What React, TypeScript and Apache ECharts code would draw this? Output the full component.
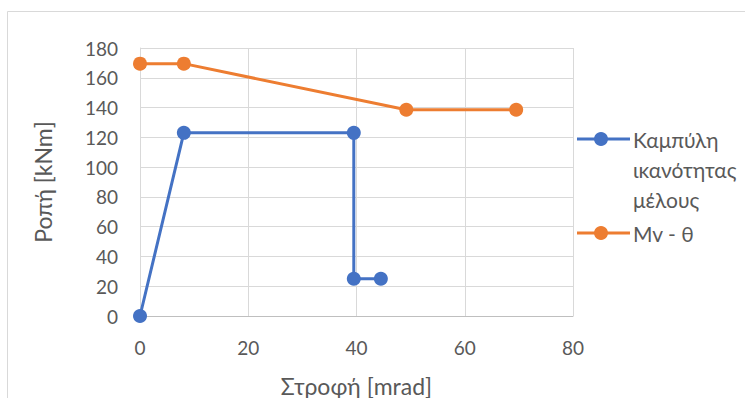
import React, { useEffect, useRef } from "react";
import * as echarts from "echarts";

const blueName = "Καμπύλη ικανότητας μέλους";
const blueLegendLines = ["Καμπύλη", "ικανότητας", "μέλους"];
const blueX = [0, 8.1, 39.5, 39.5, 44.5];
const blueY = [0, 123, 123, 25, 25];

const orangeName = "Mv - θ";
const orangeX = [0, 8.1, 49.2, 69.5];
const orangeY = [169.5, 169.5, 138.5, 138.5];

const xTitle = "Στροφή [mrad]";
const yTitle = "Ροπή [kNm]";

const BLUE = "#4472C4";
const ORANGE = "#ED7D31";
const FONT = "Lato";

export default function App() {
  const ref = useRef<HTMLDivElement>(null);
  useEffect(() => {
    if (!ref.current) return;
    const chart = echarts.init(ref.current, null, { renderer: "svg" });
    const legendItem = (color: string, lines: string[], y: number) => [
      { type: "line", shape: { x1: 577, y1: y, x2: 630, y2: y }, style: { stroke: color, lineWidth: 3 } },
      { type: "circle", shape: { cx: 601, cy: y, r: 7 }, style: { fill: color } },
      ...lines.map((t, i) => ({
        type: "text",
        x: 633,
        y: y + i * 30,
        style: { text: t, fill: "#595959", font: `21px ${FONT}`, textVerticalAlign: "middle" },
      })),
    ];
    chart.setOption({
      animation: false,
      textStyle: { fontFamily: FONT },
      grid: { left: 140, right: 172, top: 48, bottom: 82, containLabel: false, outerBoundsMode: "none" },
      xAxis: {
        type: "value",
        min: 0,
        max: 80,
        interval: 20,
        name: xTitle,
        nameLocation: "middle",
        nameGap: 58,
        nameTextStyle: { color: "#595959", fontSize: 23, fontFamily: FONT },
        axisLine: { show: true, lineStyle: { color: "#bfbfbf", width: 1 } },
        axisTick: { show: false },
        axisLabel: { color: "#595959", fontSize: 19, margin: 22, fontFamily: FONT },
        splitLine: { show: true, lineStyle: { color: "#d9d9d9", width: 1 } },
      },
      yAxis: {
        type: "value",
        min: 0,
        max: 180,
        interval: 20,
        name: yTitle,
        nameLocation: "middle",
        nameGap: 86,
        nameRotate: 90,
        nameTextStyle: { color: "#595959", fontSize: 23, fontFamily: FONT },
        axisLine: { show: true, lineStyle: { color: "#d9d9d9", width: 1 } },
        axisTick: { show: false },
        axisLabel: { color: "#595959", fontSize: 19, margin: 22, fontFamily: FONT },
        splitLine: { show: true, lineStyle: { color: "#d9d9d9", width: 1 } },
      },
      series: [
        {
          name: blueName,
          type: "line",
          data: blueX.map((x, i) => [x, blueY[i]]),
          symbol: "circle",
          symbolSize: 14,
          lineStyle: { color: BLUE, width: 3 },
          itemStyle: { color: BLUE },
        },
        {
          name: orangeName,
          type: "line",
          data: orangeX.map((x, i) => [x, orangeY[i]]),
          symbol: "circle",
          symbolSize: 14,
          lineStyle: { color: ORANGE, width: 3 },
          itemStyle: { color: ORANGE },
        },
      ],
      graphic: [
        { type: "rect", shape: { x: 7.5, y: 11.5, width: 800, height: 500 }, style: { fill: "none", stroke: "#d9d9d9", lineWidth: 1 } },
        ...legendItem(BLUE, blueLegendLines, 139),
        ...legendItem(ORANGE, [orangeName], 233),
      ],
    });
    return () => chart.dispose();
  }, []);
  return (
    <div
      ref={ref}
      style={{ position: "absolute", left: 0, top: 0, width: 745, height: 398, background: "#fff" }}
    />
  );
}
